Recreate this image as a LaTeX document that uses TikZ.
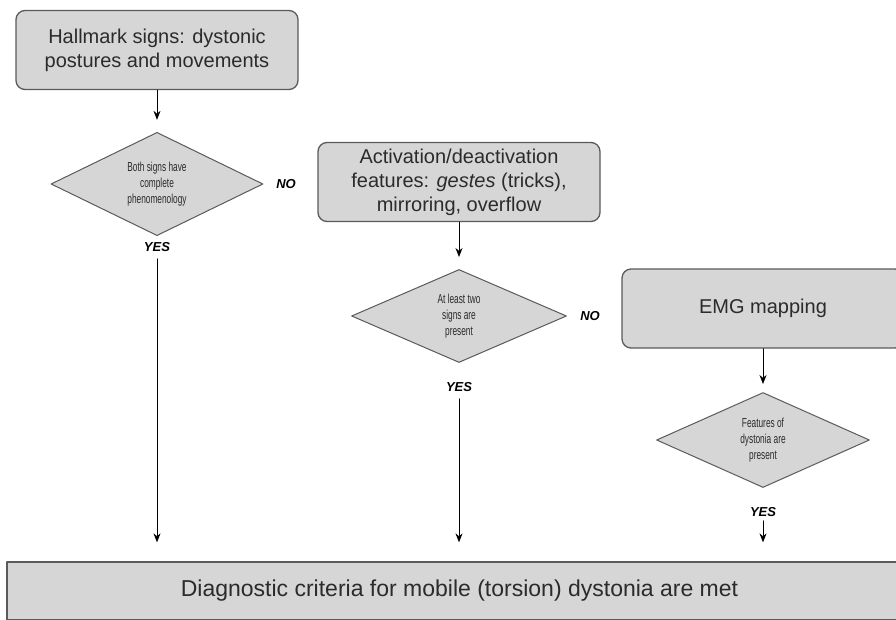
\documentclass[tikz,border=0pt]{standalone}
\usepackage{fontspec}
\setmainfont{Liberation Sans}
\newfontfamily\narrowsans[FakeStretch=0.64]{Liberation Sans}
\usepackage{xcolor}
\usepackage{tikz}
\usetikzlibrary{shapes.geometric,arrows.meta}
\definecolor{boxfill}{HTML}{D6D6D6}
\definecolor{boxline}{HTML}{5A5A5A}
\definecolor{ink}{HTML}{2B2B2B}
\tikzset{
  procbox/.style={draw=boxline, fill=boxfill, line width=1.3pt, rounded corners=9pt,
    minimum width=282pt, minimum height=79pt, align=center, text=ink,
    font=\fontsize{20}{24}\selectfont},
  decision/.style={diamond, draw=boxline, fill=boxfill, line width=1pt, inner sep=0pt,
    align=center, text=ink, font=\narrowsans\fontsize{13}{16}\selectfont},
  answer/.style={inner sep=1pt, text=black, font=\bfseries\itshape\fontsize{13}{15}\selectfont},
  goalbox/.style={draw=boxline, fill=boxfill, line width=1.3pt, minimum width=905pt,
    minimum height=58pt, text=ink, font=\fontsize{23}{28}\selectfont},
  flow/.style={draw=black, line width=0.8pt, -{Stealth[length=9pt,width=7pt]}}
}

\begin{document}
\begin{tikzpicture}[x=1pt, y=-1pt, line cap=round, line join=round]
  \useasboundingbox (0,0) rectangle (896,620);
  \clip (0,0) rectangle (896,620);
  % left column
  \node[procbox] (hall) at (157,50) {Hallmark signs: dystonic\\postures and movements};
  \node[decision, minimum width=212pt, minimum height=94pt] (both) at (157,184)
    {Both signs have\\complete\\phenomenology};
  \node[answer] (no1) at (286,184) {NO};
  \node[answer] (yes1) at (157,247) {YES};
  % middle column
  \node[procbox] (act) at (459,182) {Activation/deactivation\\features: \textit{gestes} (tricks),\\mirroring, overflow};
  \node[decision, minimum width=215pt, minimum height=93pt] (alo) at (459,316)
    {At least two\\signs are\\present};
  \node[answer] (no2) at (590,316) {NO};
  \node[answer] (yes2) at (459,387) {YES};
  % right column
  \node[procbox] (emg) at (763,308.5) {EMG mapping};
  \node[decision, minimum width=213pt, minimum height=95pt] (feat) at (763,440)
    {Features of\\dystonia are\\present};
  \node[answer] (yes3) at (763,512) {YES};
  % outcome
  \node[goalbox] (diag) at (459.5,591) {Diagnostic criteria for mobile (torsion) dystonia are met};

  \draw[flow, shorten >=12pt] (hall) -- (both);
  \draw[flow, shorten >=12pt] (act) -- (alo);
  \draw[flow, shorten >=8pt] (emg) -- (feat);
  \draw[flow, shorten <=6pt, shorten >=19pt] (yes1) -- (yes1 |- diag.north);
  \draw[flow, shorten <=6pt, shorten >=19pt] (yes2) -- (yes2 |- diag.north);
  \draw[flow, shorten <=3pt, shorten >=19pt] (yes3) -- (yes3 |- diag.north);
\end{tikzpicture}
\end{document}
